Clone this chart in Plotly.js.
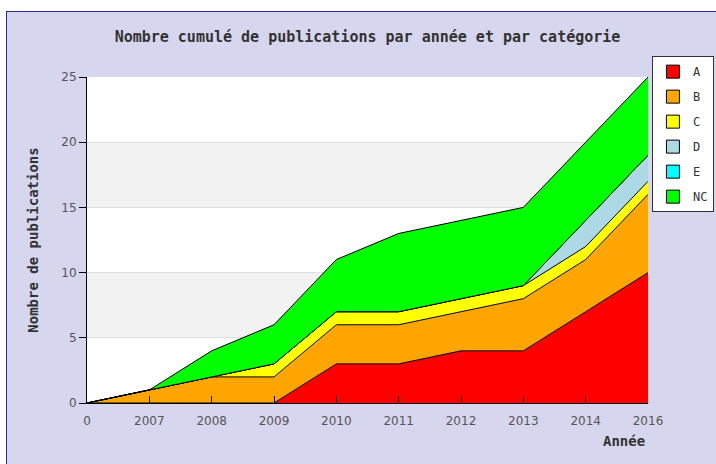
<!DOCTYPE html>
<html>
<head>
<meta charset="utf-8">
<script src="https://cdn.plot.ly/plotly-3.0.1.min.js"></script>
<style>
html,body{margin:0;padding:0;background:#ffffff;width:716px;height:464px;overflow:hidden;}
#chart{position:absolute;left:6px;top:11px;width:760px;height:452px;border-left:1px solid #2a2a9a;border-top:1px solid #2a2a9a;}
</style>
</head>
<body>
<div id="chart"></div>
<script>
// Data
const years = ['0','2007','2008','2009','2010','2011','2012','2013','2014','2016'];
const catNames = ['A','B','C','D','E','NC'];
const catColors = ['#ff0000','#ffa500','#ffff00','#add8e6','#00ffff','#00ff00'];
const valuesA  = [0,0,0,0,3,3,4,4,7,10];
const valuesB  = [0,1,2,2,3,3,3,4,4,6];
const valuesC  = [0,0,0,1,1,1,1,1,1,1];
const valuesD  = [0,0,0,0,0,0,0,0,2,2];
const valuesE  = [0,0,0,0,0,0,0,0,0,0];
const valuesNC = [0,0,2,3,4,6,6,6,6,6];
const seriesValues = [valuesA, valuesB, valuesC, valuesD, valuesE, valuesNC];
const yTicks = [0,5,10,15,20,25];

const traces = [];
seriesValues.forEach((vals, i) => {
  traces.push({
    type: 'scatter', mode: 'lines', x: years, y: vals,
    stackgroup: 'one', name: catNames[i],
    line: {color: '#000000', width: 1},
    fillcolor: catColors[i], showlegend: false, hoverinfo: 'skip'
  });
});
catNames.forEach((n, i) => {
  traces.push({
    type: 'scatter', mode: 'markers', x: [null], y: [null], name: n,
    legendgroup: 'g' + i,
    marker: {symbol: 'square', size: 13, color: catColors[i], line: {color: '#000000', width: 1}},
    showlegend: true
  });
});

const monoFont = 'DejaVu Sans Mono, Liberation Mono, monospace';
const layout = {
  width: 760, height: 452,
  margin: {l: 80, r: 119, t: 65, b: 61},
  paper_bgcolor: '#d6d6ee',
  plot_bgcolor: '#ffffff',
  showlegend: true,
  title: {
    text: '<b>Nombre cumulé de publications par année et par catégorie</b>',
    font: {family: monoFont, size: 15, color: '#333333'},
    xref: 'paper', x: 0.5, xanchor: 'center',
    yref: 'container', y: 0.945, yanchor: 'middle'
  },
  xaxis: {
    type: 'category', range: [0, 9], categoryorder: 'array', categoryarray: years,
    showline: true, linecolor: '#000000', linewidth: 1,
    ticks: 'inside', ticklen: 7, tickcolor: '#000000', tickwidth: 1,
    ticklabelstandoff: 7,
    showgrid: false, zeroline: false,
    tickfont: {family: 'DejaVu Sans, sans-serif', size: 12, color: '#555555'}
  },
  yaxis: {
    range: [0, 25], tickvals: yTicks, ticktext: yTicks.map(String),
    showline: true, linecolor: '#000000', linewidth: 1,
    ticks: 'outside', ticklen: 7, tickcolor: '#000000',
    showgrid: true, gridcolor: '#dedede', gridwidth: 1, zeroline: false,
    tickfont: {family: 'DejaVu Sans, sans-serif', size: 12, color: '#555555'},
    title: {text: '<b>Nombre de publications</b>', standoff: 19,
            font: {family: monoFont, size: 14, color: '#333333'}}
  },
  legend: {
    x: 1.007, xanchor: 'left', y: 1.064, yanchor: 'top', xref: 'paper',
    bgcolor: '#ffffff', bordercolor: '#333333', borderwidth: 1,
    traceorder: 'grouped', tracegroupgap: 6,
    font: {family: monoFont, size: 12, color: '#333333'}
  },
  shapes: [
    {type: 'rect', xref: 'paper', x0: 0, x1: 1, yref: 'y', y0: 5, y1: 10, fillcolor: '#f2f2f2', line: {width: 0}, layer: 'below'},
    {type: 'rect', xref: 'paper', x0: 0, x1: 1, yref: 'y', y0: 15, y1: 20, fillcolor: '#f2f2f2', line: {width: 0}, layer: 'below'}
  ],
  annotations: [
    {text: '<b>Année</b>', xref: 'paper', x: 0.998, xanchor: 'right', yref: 'paper', y: -0.118, yanchor: 'middle',
     showarrow: false, font: {family: monoFont, size: 14, color: '#333333'}}
  ]
};

Plotly.newPlot('chart', traces, layout, {displayModeBar: false, staticPlot: true});
</script>
</body>
</html>
